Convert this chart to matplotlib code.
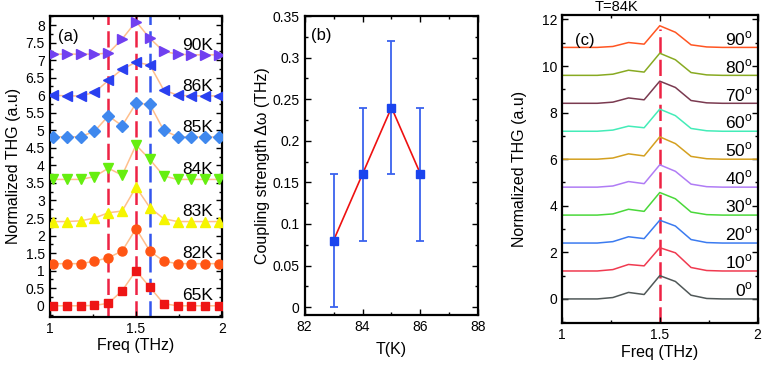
import matplotlib
matplotlib.use('Agg')
import matplotlib.pyplot as plt
from matplotlib.ticker import MultipleLocator

plt.rcParams['font.family'] = ['Liberation Sans', 'DejaVu Sans']
plt.rcParams['mathtext.fontset'] = 'custom'
plt.rcParams['mathtext.rm'] = 'Liberation Sans'

# ---- panel (a): THG spectra at several temperatures ----
freq_a = [1.02, 1.10, 1.18, 1.26, 1.34, 1.42, 1.50, 1.58, 1.66, 1.74, 1.82, 1.90, 1.98]
temp_labels = ['65K', '82K', '83K', '84K', '85K', '86K', '90K']
thg_65 = [0, 0, 0, 0.01, 0.07, 0.43, 1.0, 0.53, 0.06, 0, 0, 0, 0]
thg_82 = [1.2, 1.2, 1.2, 1.27, 1.37, 1.56, 2.2, 1.56, 1.27, 1.2, 1.2, 1.2, 1.2]
thg_83 = [2.4, 2.4, 2.42, 2.5, 2.65, 2.7, 3.38, 2.8, 2.48, 2.4, 2.4, 2.4, 2.4]
thg_84 = [3.6, 3.6, 3.6, 3.68, 3.92, 3.72, 4.58, 4.17, 3.7, 3.6, 3.6, 3.6, 3.6]
thg_85 = [4.82, 4.81, 4.82, 4.97, 5.41, 5.13, 5.77, 5.74, 5.0, 4.82, 4.81, 4.81, 4.81]
thg_86 = [6.0, 5.98, 5.98, 6.08, 6.42, 6.74, 6.94, 6.86, 6.15, 6.0, 5.98, 5.98, 5.98]
thg_90 = [7.17, 7.17, 7.17, 7.17, 7.2, 7.6, 8.1, 7.62, 7.25, 7.17, 7.15, 7.15, 7.15]
thg_a = [thg_65, thg_82, thg_83, thg_84, thg_85, thg_86, thg_90]
label_y_a = [0.3, 1.48, 2.68, 3.88, 5.07, 6.26, 7.42]
markers_a = ['s', 'o', '^', 'v', 'D', '<', '>']
colors_a = ['#ee1515', '#ff5514', '#f5f500', '#66ee10', '#3f88ee', '#2a40f0', '#7040f0']
msize_a = [5.5, 6.5, 7, 7, 6, 7, 7]
dash_lines_a = [1.34, 1.50, 1.58]
dash_colors_a = ['#ee2244', '#ee2244', '#3355ee']

# ---- panel (b): coupling strength ----
temp_b = [83, 84, 85, 86]
coupling_b = [0.08, 0.16, 0.24, 0.16]
err_b = [0.08, 0.08, 0.08, 0.08]

# ---- panel (c): angle dependence at 84K ----
freq_c = [1.0, 1.10, 1.18, 1.26, 1.34, 1.42, 1.50, 1.58, 1.66, 1.74, 1.82, 1.90, 2.0]
angles_c = ['0', '10', '20', '30', '40', '50', '60', '70', '80', '90']
offsets_c = [0, 1.2, 2.4, 3.6, 4.8, 6.0, 7.2, 8.4, 9.6, 10.8]
shape_0 = [0, 0, 0, 0.06, 0.28, 0.19, 1.00, 0.75, 0.16, 0.02, 0, 0, 0]
shape_10 = [0, 0, 0, 0.06, 0.28, 0.22, 1.00, 0.78, 0.15, 0.02, 0, 0, 0]
shape_20 = [0, 0, 0, 0.06, 0.27, 0.19, 0.98, 0.73, 0.15, 0.02, 0, 0, 0]
shape_30 = [0, 0, 0, 0.05, 0.25, 0.16, 0.97, 0.70, 0.13, 0.02, 0, 0, 0]
shape_40 = [0, 0, 0, 0.05, 0.24, 0.15, 0.96, 0.68, 0.13, 0.02, 0, 0, 0]
shape_50 = [0, 0, 0, 0.05, 0.23, 0.14, 0.96, 0.67, 0.12, 0.02, 0, 0, 0]
shape_60 = [0, 0, 0, 0.05, 0.22, 0.15, 0.95, 0.67, 0.12, 0.02, 0, 0, 0]
shape_70 = [0, 0, 0, 0.05, 0.23, 0.15, 0.95, 0.68, 0.12, 0.02, 0, 0, 0]
shape_80 = [0, 0, 0, 0.05, 0.22, 0.14, 0.95, 0.67, 0.12, 0.02, 0, 0, 0]
shape_90 = [0, 0, 0, 0.04, 0.21, 0.14, 0.93, 0.65, 0.11, 0.02, 0, 0, 0]
shapes_c = [shape_0, shape_10, shape_20, shape_30, shape_40,
            shape_50, shape_60, shape_70, shape_80, shape_90]
colors_c = ['#505858', '#f03a50', '#3b7bf0', '#4ad83a', '#b07cf5',
            '#d4a020', '#44ecb8', '#7a3a50', '#88aa22', '#ff5522']


def style_axes(ax, fs=10):
    ax.tick_params(which='both', direction='in', top=True, right=True,
                   labelsize=fs, width=1.0)
    ax.tick_params(which='major', length=4)
    ax.tick_params(which='minor', length=2.5)
    for sp in ax.spines.values():
        sp.set_linewidth(1.6)


fig = plt.figure(figsize=(7.63, 3.69), dpi=100)

# (a)
ax1 = fig.add_axes([0.0649, 0.1409, 0.2267, 0.817])
for x0, c in zip(dash_lines_a, dash_colors_a):
    ax1.axvline(x0, color=c, lw=1.8, ls=(0, (6.5, 2.5)), zorder=1)
for ys, m, c, ms, lab, ly in zip(thg_a, markers_a, colors_a, msize_a, temp_labels, label_y_a):
    ax1.plot(freq_a, ys, '-', color='#ffbf8c', lw=1.1, zorder=2)
    ax1.plot(freq_a, ys, ls='none', marker=m, color=c, ms=ms, mec=c, zorder=3)
    ax1.text(1.948, ly, lab, ha='right', va='center', fontsize=12.5)
ax1.set_xlim(1, 2)
ax1.set_ylim(-0.32, 8.27)
ax1.set_xticks([1, 1.5, 2])
ax1.set_xticklabels(['1', '1.5', '2'])
ax1.xaxis.set_minor_locator(MultipleLocator(0.25))
ax1.set_yticks([0, 0.5, 1, 1.5, 2, 2.5, 3, 3.5, 4, 4.5, 5, 5.5, 6, 6.5, 7, 7.5, 8])
ax1.set_yticklabels(['0', '0.5', '1', '1.5', '2', '2.5', '3', '3.5', '4', '4.5',
                     '5', '5.5', '6', '6.5', '7', '7.5', '8'])
ax1.yaxis.set_minor_locator(MultipleLocator(0.25))
style_axes(ax1)
ax1.set_xlabel('Freq (THz)', fontsize=11.5)
ax1.set_ylabel('Normalized THG (a.u)', fontsize=11.5)
ax1.xaxis.set_label_coords(0.5, -0.068)
ax1.yaxis.set_label_coords(-0.166, 0.5)
ax1.text(0.05, 0.93, '(a)', transform=ax1.transAxes, fontsize=12, va='center')

# (b)
ax2 = fig.add_axes([0.3991, 0.1463, 0.228, 0.8103])
ax2.plot(temp_b, coupling_b, '-', color='#ee1111', lw=1.2, zorder=2)
ax2.errorbar(temp_b, coupling_b, yerr=err_b, fmt='s', color='#3a62ee', ecolor='#3a62ee',
             mfc='#1a44ee', mec='#1a44ee', ms=5.5, elinewidth=1.3, capsize=3, capthick=1.3,
             zorder=3)
ax2.set_xlim(82, 88)
ax2.set_ylim(-0.0095, 0.35)
ax2.xaxis.set_major_locator(MultipleLocator(2))
ax2.xaxis.set_minor_locator(MultipleLocator(1))
ax2.set_yticks([0, 0.05, 0.1, 0.15, 0.2, 0.25, 0.3, 0.35])
ax2.set_yticklabels(['0', '0.05', '0.1', '0.15', '0.2', '0.25', '0.3', '0.35'])
ax2.yaxis.set_minor_locator(MultipleLocator(0.025))
style_axes(ax2)
ax2.set_xlabel('T(K)', fontsize=11.5)
ax2.set_ylabel('Coupling strength \u0394\u03c9 (THz)', fontsize=11.5)
ax2.xaxis.set_label_coords(0.5, -0.09)
ax2.yaxis.set_label_coords(-0.2, 0.5)
ax2.text(0.04, 0.936, '(b)', transform=ax2.transAxes, fontsize=12, va='center')

# (c)
ax3 = fig.add_axes([0.7366, 0.1255, 0.2562, 0.8325])
ax3.vlines(1.5, -1.02, 11.6, color='#ee2244', lw=1.8, ls=(0, (6.5, 2.5)), zorder=1)
for sh, off, c, ang in zip(shapes_c, offsets_c, colors_c, angles_c):
    ax3.plot(freq_c, [off + v for v in sh], '-', color=c, lw=1.1, zorder=2)
    ax3.text(1.976, off + 0.38, ang + '$^{\\mathrm{o}}$', ha='right', va='center',
             fontsize=12.5)
ax3.set_xlim(1, 2)
ax3.set_ylim(-1.02, 12.17)
ax3.set_xticks([1, 1.5, 2])
ax3.set_xticklabels(['1', '1.5', '2'])
ax3.xaxis.set_minor_locator(MultipleLocator(0.25))
ax3.yaxis.set_major_locator(MultipleLocator(2))
ax3.yaxis.set_minor_locator(MultipleLocator(1))
style_axes(ax3)
ax3.set_xlabel('Freq (THz)', fontsize=11.5)
ax3.set_ylabel('Normalized THG (a.u)', fontsize=11.5)
ax3.xaxis.set_label_coords(0.5, -0.073)
ax3.yaxis.set_label_coords(-0.18, 0.5)
ax3.text(0.067, 0.92, '(c)', transform=ax3.transAxes, fontsize=12, va='center')
ax3.text(0.276, 1.028, 'T=84K', transform=ax3.transAxes, fontsize=10.5,
         ha='center', va='center')

fig.savefig('out.png', dpi=100)
